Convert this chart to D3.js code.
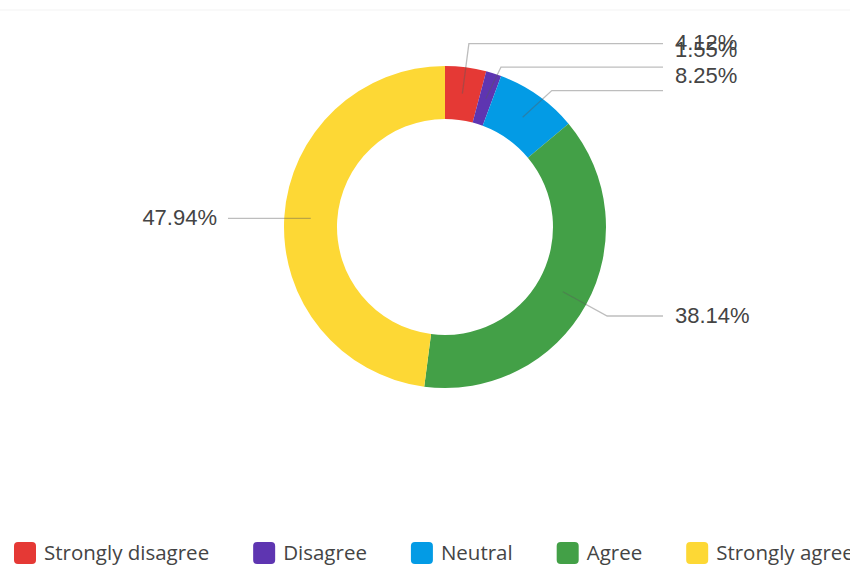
<!DOCTYPE html>
<html>
<head>
<meta charset="utf-8">
<script src="https://cdn.jsdelivr.net/npm/d3@7"></script>
<style>
  body { margin: 0; background: #fff; }
  svg { display: block; }
</style>
</head>
<body>
<svg id="chart" width="850" height="580"></svg>
<script>
let categories = ["Strongly disagree", "Disagree", "Neutral", "Agree", "Strongly agree"];
let values = [4.12, 1.55, 8.25, 38.14, 47.94];
let colors = ["#e53935", "#5e35b1", "#039be5", "#43a047", "#fdd835"];

let svg = d3.select("#chart");
let cx = 445, cy = 227;
let outer = 161, inner = 108;

// faint frame like the screenshot
svg.append("line").attr("x1", 0).attr("x2", 850).attr("y1", 10).attr("y2", 10)
  .attr("stroke", "#f3f3f3");

let data = categories.map((c, i) => ({ name: c, value: values[i], color: colors[i] }));

let pie = d3.pie().sort(null).value(d => d.value);
let arcs = pie(data);

let arc = d3.arc().innerRadius(inner).outerRadius(outer);
let midArc = d3.arc().innerRadius((inner + outer) / 2).outerRadius((inner + outer) / 2);
let labelArc = d3.arc().innerRadius(outer + 24).outerRadius(outer + 24);

let g = svg.append("g").attr("transform", `translate(${cx},${cy})`);

g.selectAll("path.slice")
  .data(arcs)
  .enter()
  .append("path")
  .attr("class", "slice")
  .attr("d", arc)
  .attr("fill", d => d.data.color);

// label positions
let items = arcs.map(d => {
  let mid = (d.startAngle + d.endAngle) / 2;
  let c = midArc.centroid(d);
  let e = labelArc.centroid(d);
  let right = mid < Math.PI;
  return { d: d, right: right, c: c, e: e, lineY: right ? e[1] : c[1], textY: right ? e[1] : c[1] };
});

// push right-side leader lines apart (top-down); labels keep their raw spot
let rightItems = items.filter(o => o.right).sort((a, b) => a.e[1] - b.e[1]);
let spacing = 23.5;
for (let i = 1; i < rightItems.length; i++) {
  if (rightItems[i].lineY < rightItems[i - 1].lineY + spacing) {
    rightItems[i].lineY = rightItems[i - 1].lineY + spacing;
  }
}

let rightEnd = 218, leftEnd = -217;

g.selectAll("polyline.leader")
  .data(items)
  .enter()
  .append("polyline")
  .attr("class", "leader")
  .attr("fill", "none")
  .attr("stroke", "rgba(90,90,90,0.4)")
  .attr("stroke-width", 1.3)
  .attr("points", o => {
    let endX = o.right ? rightEnd : leftEnd;
    let pts = o.right ? [o.c, [o.e[0], o.lineY], [endX, o.lineY]] : [o.c, [endX, o.lineY]];
    return pts.map(p => p.join(",")).join(" ");
  });

g.selectAll("text.pct")
  .data(items)
  .enter()
  .append("text")
  .attr("class", "pct")
  .attr("x", o => o.right ? rightEnd + 12 : leftEnd - 11)
  .attr("y", o => o.textY - 1)
  .attr("dy", "0.35em")
  .attr("text-anchor", o => o.right ? "start" : "end")
  .attr("font-family", "Liberation Sans, Arial, sans-serif")
  .attr("font-size", 22)
  .attr("fill", "#444")
  .text(o => o.d.data.value.toFixed(2) + "%");

// legend
let legend = svg.append("g").attr("transform", "translate(14,553)");
let x = 0;
data.forEach(d => {
  let item = legend.append("g").attr("transform", `translate(${x},0)`);
  item.append("rect")
    .attr("x", 0).attr("y", -11)
    .attr("width", 22).attr("height", 22)
    .attr("rx", 4)
    .attr("fill", d.color);
  let t = item.append("text")
    .attr("x", 30)
    .attr("y", 0)
    .attr("dy", "0.35em")
    .attr("font-family", "Open Sans, sans-serif")
    .attr("font-size", 20.5)
    .attr("fill", "#444")
    .text(d.name);
  x += 30 + t.node().getComputedTextLength() + 44;
});
</script>
</body>
</html>
